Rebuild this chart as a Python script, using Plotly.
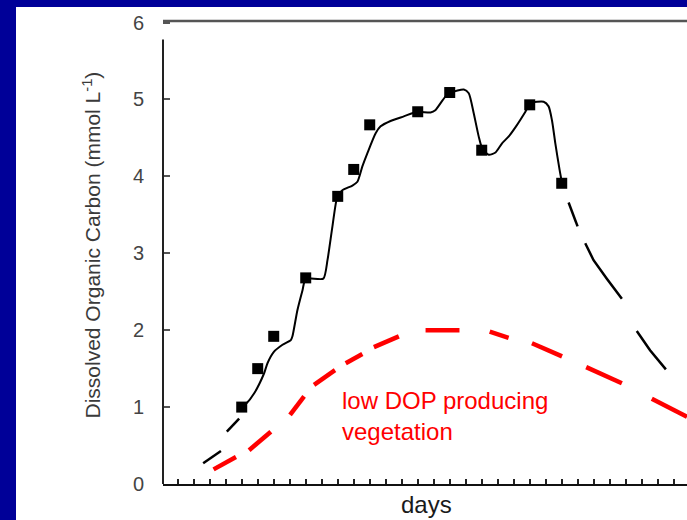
import plotly.graph_objects as go

# Measured dissolved organic carbon (sampled days)
sample_days = [5, 6, 7, 9, 11, 12, 13, 16, 18, 20, 23, 25]
sample_doc = [1.00, 1.50, 1.92, 2.68, 3.74, 4.09, 4.67, 4.84, 5.09, 4.34, 4.93, 3.91]

# Fitted trend through the samples
trend_days = [5.0, 5.26, 5.78, 6.40, 6.61, 7.02, 7.55, 8.07, 8.17, 8.48, 8.80, 9.0, 10.1,
              10.36, 10.67, 10.98, 11.29, 11.92, 12.23, 12.54, 12.85, 13.37, 13.68, 14.3,
              15.13, 15.97, 16.8, 17.1, 17.74, 18.09, 18.88, 19.19, 19.5, 19.81, 20.02,
              20.44, 20.86, 21.27, 21.69, 22.21, 22.73, 23.04, 23.87, 24.18, 24.39, 24.6,
              24.87, 25.02]
trend_doc = [1.00, 1.04, 1.18, 1.44, 1.57, 1.72, 1.81, 1.87, 1.92, 2.26, 2.52, 2.67, 2.67,
             2.91, 3.35, 3.74, 3.82, 3.88, 3.93, 4.13, 4.30, 4.56, 4.65, 4.72,
             4.78, 4.84, 4.83, 4.86, 5.04, 5.09, 5.13, 5.08, 4.82, 4.52, 4.37,
             4.28, 4.31, 4.43, 4.52, 4.67, 4.84, 4.95, 4.97, 4.91, 4.73, 4.43,
             4.08, 3.91]

# Extrapolated parts of the trend (before first and after last sample), dashed
extrap_days = [2.59, 3.70, None, 4.07, 4.84, None,
               25.43, 25.99, None, 26.47, 26.99, 27.82, 28.76, None, 29.69, 30.52, 31.51]
extrap_doc = [0.27, 0.43, None, 0.68, 0.85, None,
              3.66, 3.35, None, 3.13, 2.91, 2.67, 2.41, None, 1.99, 1.74, 1.49]

# Low DOP producing vegetation scenario, dashed
low_days = [3.24, 4.64, None, 5.46, 6.82, None, 8.02, 8.90, None, 9.52, 10.83, None,
            11.50, 12.54, None, 13.26, 14.82, None, 16.49, 18.61, None, 20.50, 21.68, None,
            23.14, 25.02, None, 26.53, 28.76, None, 30.63, 32.83]
low_doc = [0.19, 0.35, None, 0.44, 0.68, None, 0.90, 1.14, None, 1.29, 1.48, None,
           1.57, 1.69, None, 1.78, 1.92, None, 2.00, 2.00, None, 1.98, 1.90, None,
           1.83, 1.66, None, 1.52, 1.31, None, 1.11, 0.875]

y_ticks = [0, 1, 2, 3, 4, 5, 6]

FONT = "Liberation Sans, Arial, sans-serif"
NAVY = "#000098"

fig = go.Figure()

fig.add_trace(go.Scatter(x=low_days, y=low_doc, mode="lines",
                         line=dict(color="#ff0000", width=4.5), connectgaps=False,
                         hoverinfo="skip", showlegend=False))
fig.add_trace(go.Scatter(x=extrap_days, y=extrap_doc, mode="lines",
                         line=dict(color="#000000", width=2.5), connectgaps=False,
                         hoverinfo="skip", showlegend=False))
fig.add_trace(go.Scatter(x=trend_days, y=trend_doc, mode="lines",
                         line=dict(color="#000000", width=2, shape="spline", smoothing=0.6),
                         hoverinfo="skip", showlegend=False))
fig.add_trace(go.Scatter(x=sample_days, y=sample_doc, mode="markers",
                         marker=dict(symbol="square", size=11, color="#000000"),
                         showlegend=False))

fig.update_xaxes(range=[0.08, 32.83], showgrid=False, zeroline=False,
                 showline=True, linecolor="#111111", linewidth=2,
                 ticks="inside", tick0=0, dtick=1, ticklen=5, tickwidth=1.5,
                 tickcolor="#222222", showticklabels=False)
fig.update_yaxes(range=[0, 6.02], showgrid=False, zeroline=False, showline=False,
                 ticks="inside", tickvals=y_ticks, ticklen=7, tickwidth=2,
                 tickcolor="#555555", ticklabelstandoff=18,
                 tickfont=dict(family=FONT, size=20, color="#444444"))

shapes = [
    # left axis line (stops short of the top frame)
    dict(type="line", xref="paper", yref="y", x0=0, x1=0, y0=0, y1=5.78,
         line=dict(color="#222222", width=2)),
    # top frame line
    dict(type="line", xref="paper", yref="paper", x0=0, x1=1, y0=1, y1=1,
         line=dict(color="#555555", width=2.5)),
    # navy slide border
    dict(type="rect", xref="paper", yref="paper", x0=-0.32, x1=(16 - 163) / 524,
         y0=-0.1, y1=1.06, line=dict(width=0), fillcolor=NAVY),
    dict(type="rect", xref="paper", yref="paper", x0=-0.32, x1=1.01,
         y0=(484 - 7) / 463, y1=1.06, line=dict(width=0), fillcolor=NAVY),
]

annotations = [
    dict(text="low DOP producing<br>vegetation", xref="x", yref="y", x=11.12, y=0.89,
         xanchor="left", yanchor="middle", align="left", showarrow=False,
         font=dict(family=FONT, size=24, color="#ff0000")),
    dict(text="days", xref="paper", yref="paper", x=0.502, y=(484 - 505) / 463,
         xanchor="center", yanchor="middle", showarrow=False,
         font=dict(family=FONT, size=24, color="#1a1a1a")),
    dict(text="Dissolved Organic Carbon (mmol L<sup>-1</sup>)", xref="paper", yref="paper",
         x=(91 - 163) / 524, y=(484 - 245.5) / 463, textangle=-90,
         xanchor="center", yanchor="middle", showarrow=False,
         font=dict(family=FONT, size=21, color="#3a3a3a")),
]

fig.update_layout(width=687, height=520, autosize=False,
                  margin=dict(l=163, r=0, t=21, b=36, pad=0),
                  paper_bgcolor="white", plot_bgcolor="white",
                  shapes=shapes, annotations=annotations, showlegend=False)

fig.write_html("out.html")
